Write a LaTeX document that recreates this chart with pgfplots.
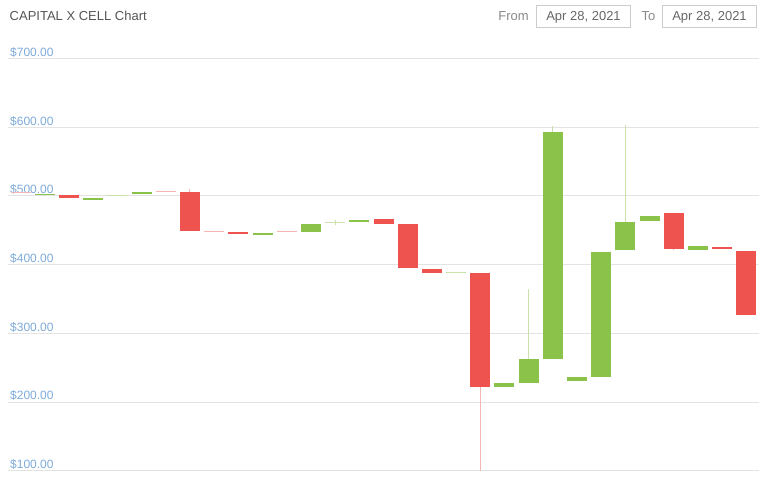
\documentclass[border=0pt]{standalone}
\usepackage{fontspec}
\setmainfont{Liberation Sans}
\usepackage{pgfplots}
\pgfplotsset{compat=1.18}
\usepackage{pgfplotstable}
\definecolor{up}{HTML}{8BC34A}
\definecolor{down}{HTML}{EF5350}
\definecolor{upwick}{HTML}{C9E2AC}
\definecolor{downwick}{HTML}{F4B6B5}
\definecolor{gridc}{HTML}{E3E3E3}
\definecolor{tickc}{HTML}{7DAAD9}
\definecolor{titlec}{HTML}{555555}
\definecolor{labc}{HTML}{888888}
\definecolor{boxc}{HTML}{CCCCCC}
\definecolor{datec}{HTML}{666666}

\pgfplotstableread{
i o c
2 501 503
4 494.5 496.5
6 503 506
11 443.5 446.5
13 447.5 458.5
15 462 465
21 221.5 227.5
22 228 263
23 263 593
24 231 236
25 237 418
26 421 462
27 463.5 470
29 421 427
}\upbodies

\pgfplotstableread{
i o c
3 501 497
8 506 449
10 447 444
16 466 459.5
17 459 395
18 394 388
20 388 222
28 475.5 423
30 426 423
31 420 327
}\downbodies

\pgfplotstableread{
i v
1 504.5
7 506
9 448
12 448
}\downdoji

\pgfplotstableread{
i v
5 500.5
14 461
19 388.5
}\updoji

\pgfplotstableread{
i h l
8 510 506
20 388 100
28 475.5 421
}\downwicks

\pgfplotstableread{
i h l
14 465 457
22 364 263
23 601 593
26 603 462
}\upwicks

\begin{document}
\begin{tikzpicture}[x=1pt,y=1pt]
\path[use as bounding box] (0,0) rectangle (769,477);
\begin{axis}[
  at={(8.5pt,6.3pt)}, anchor=south west,
  scale only axis, width=750pt, height=412.4pt,
  xmin=0.5, xmax=31.5, ymin=100, ymax=700,
  axis line style={draw=none},
  xtick=\empty,
  ytick={100,200,300,400,500,600,700},
  yticklabels={\$100.00,\$200.00,\$300.00,\$400.00,\$500.00,\$600.00,\$700.00},
  ymajorgrids,
  major grid style={draw=gridc, line width=0.8pt},
  major tick length=0pt,
  yticklabel style={anchor=base west, inner sep=0pt, xshift=1.5pt, yshift=2pt,
    font=\fontsize{12}{12}\selectfont, text=tickc},
  clip=false,
  candle/.style={draw=none, mark=none,
    error bars/y explicit, error bars/error mark=none},
]
% wicks
\addplot[candle, error bars/y dir=plus,
  error bars/error bar style={line width=1pt, draw=downwick}]
  table[x=i, y=l, y error plus expr=\thisrow{h}-\thisrow{l}, y error minus expr=0] {\downwicks};
\addplot[candle, error bars/y dir=plus,
  error bars/error bar style={line width=1pt, draw=upwick}]
  table[x=i, y=l, y error plus expr=\thisrow{h}-\thisrow{l}, y error minus expr=0] {\upwicks};
% bodies
\addplot[candle, error bars/y dir=both,
  error bars/error bar style={line width=20pt, draw=up}]
  table[x=i, y expr=(\thisrow{o}+\thisrow{c})/2, y error expr=abs(\thisrow{c}-\thisrow{o})/2] {\upbodies};
\addplot[candle, error bars/y dir=both,
  error bars/error bar style={line width=20pt, draw=down}]
  table[x=i, y expr=(\thisrow{o}+\thisrow{c})/2, y error expr=abs(\thisrow{c}-\thisrow{o})/2] {\downbodies};
% doji
\addplot[only marks, mark=-, mark size=10pt, mark options={line width=1.3pt, draw=downwick}]
  table[x=i, y=v] {\downdoji};
\addplot[only marks, mark=-, mark size=10pt, mark options={line width=1.3pt, draw=upwick}]
  table[x=i, y=v] {\updoji};
\end{axis}
\node[anchor=base west, inner sep=0pt, text=titlec, font=\fontsize{13}{13}\selectfont] at (9.5,456) {CAPITAL X CELL Chart};
\node[anchor=base, inner sep=0pt, text=labc, font=\fontsize{13}{13}\selectfont] at (513.5,456) {From};
\node[anchor=base, inner sep=0pt, text=labc, font=\fontsize{13}{13}\selectfont] at (648.5,456) {To};
\draw[boxc, line width=0.8pt] (536.5,450) rectangle (630.5,471.5);
\draw[boxc, line width=0.8pt] (662.5,450) rectangle (756.5,471.5);
\node[anchor=base, inner sep=0pt, text=datec, font=\fontsize{13}{13}\selectfont] at (583.5,456) {Apr 28, 2021};
\node[anchor=base, inner sep=0pt, text=datec, font=\fontsize{13}{13}\selectfont] at (709.5,456) {Apr 28, 2021};
\end{tikzpicture}
\end{document}
